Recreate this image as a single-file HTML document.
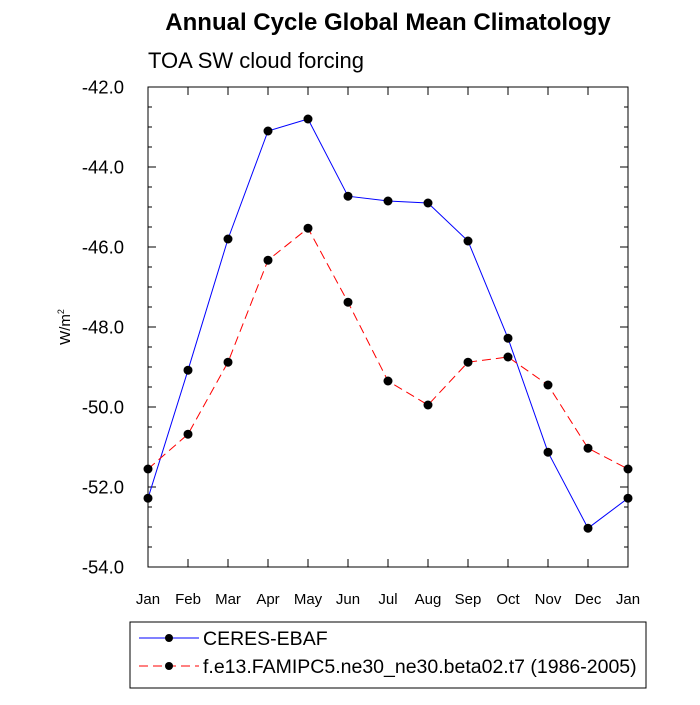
<!DOCTYPE html>
<html><head><meta charset="utf-8"><style>body{margin:0;background:#fff}svg{font-family:"Liberation Sans",sans-serif}</style></head>
<body>
<svg id="c" width="700" height="700">
<text x="388" y="30" text-anchor="middle" font-size="24" font-weight="bold">Annual Cycle Global Mean Climatology</text>
<text x="148" y="68" font-size="22">TOA SW cloud forcing</text>
<text transform="translate(70,327) rotate(-90)" text-anchor="middle" font-size="15">W/m<tspan font-size="9" dy="-6">2</tspan></text>
<rect x="148" y="87" width="480" height="480" fill="none" stroke="#000" stroke-width="1"/>
<g id="axes"></g><g id="series"></g>
<g>
<rect x="130" y="622" width="516" height="66" fill="none" stroke="#000"/>
<line x1="139" y1="638" x2="199" y2="638" stroke="#00f"/>
<circle cx="169" cy="638" r="4" fill="#000"/>
<text x="203" y="645" font-size="19.5">CERES-EBAF</text>
<line x1="139" y1="666" x2="199" y2="666" stroke="#f00" stroke-dasharray="9,5"/>
<circle cx="169" cy="666" r="4" fill="#000"/>
<text x="203" y="673" font-size="19.5">f.e13.FAMIPC5.ne30_ne30.beta02.t7 (1986-2005)</text>
</g>
</svg>
<script>
const months=["Jan","Feb","Mar","Apr","May","Jun","Jul","Aug","Sep","Oct","Nov","Dec","Jan"];
const ceres=[-52.28,-49.08,-45.8,-43.1,-42.8,-44.73,-44.85,-44.9,-45.85,-48.28,-51.13,-53.03,-52.28];
const model=[-51.55,-50.68,-48.88,-46.33,-45.53,-47.38,-49.35,-49.95,-48.88,-48.75,-49.45,-51.03,-51.55];
const yTicks=[-42,-44,-46,-48,-50,-52,-54];
const NS="http://www.w3.org/2000/svg";
const X0=148,X1=628,Y0=87,Y1=567,YMAX=-42,YMIN=-54;
const xs=i=>X0+i*(X1-X0)/(months.length-1);
const ys=v=>Y0+(YMAX-v)/(YMAX-YMIN)*(Y1-Y0);
function mk(t,a,p){const e=document.createElementNS(NS,t);for(const k in a)e.setAttribute(k,a[k]);p.appendChild(e);return e;}
const ax=document.getElementById('axes');
for(let v=YMAX;v>=YMIN-1e-9;v-=0.5){
 const maj=Math.abs(v-Math.round(v/2)*2)<1e-6;const L=maj?8:4;const y=ys(v);
 const t1=mk('line',{x1:X0,x2:X0+L,y1:y,y2:y,stroke:'#000'},ax);
 
 
 const t2=mk('line',{x1:X1,x2:X1-L,y1:y,y2:y,stroke:'#000'},ax);
 
 
}
yTicks.forEach(v=>{const t=mk('text',{x:X0-24,y:ys(v)+6.5,'text-anchor':'end','font-size':'18.5'},ax);t.textContent=v.toFixed(1);
 
 });
months.forEach((m,i)=>{const x=xs(i);
 const b=mk('line',{x1:x,x2:x,y1:Y1,y2:Y1-8,stroke:'#000'},ax);
 
 
 const tp=mk('line',{x1:x,x2:x,y1:Y0,y2:Y0+8,stroke:'#000'},ax);
 
 
 const t=mk('text',{x:x,y:Y1+37,'text-anchor':'middle','font-size':'15'},ax);t.textContent=m;
 
 });
const sg=document.getElementById('series');
function series(d,col,dash,name){
 const pl=mk('polyline',{points:d.map((v,i)=>xs(i)+','+ys(v)).join(' '),fill:'none',stroke:col,'stroke-width':1,'stroke-dasharray':dash},sg);
 
 
 d.forEach((v,i)=>{const c=mk('circle',{cx:xs(i),cy:ys(v),r:4.5,fill:'#000'},sg);
 
 });
}
series(ceres,'#00f','none','ceres');
series(model,'#f00','9,5','model');
</script>
</body></html>
